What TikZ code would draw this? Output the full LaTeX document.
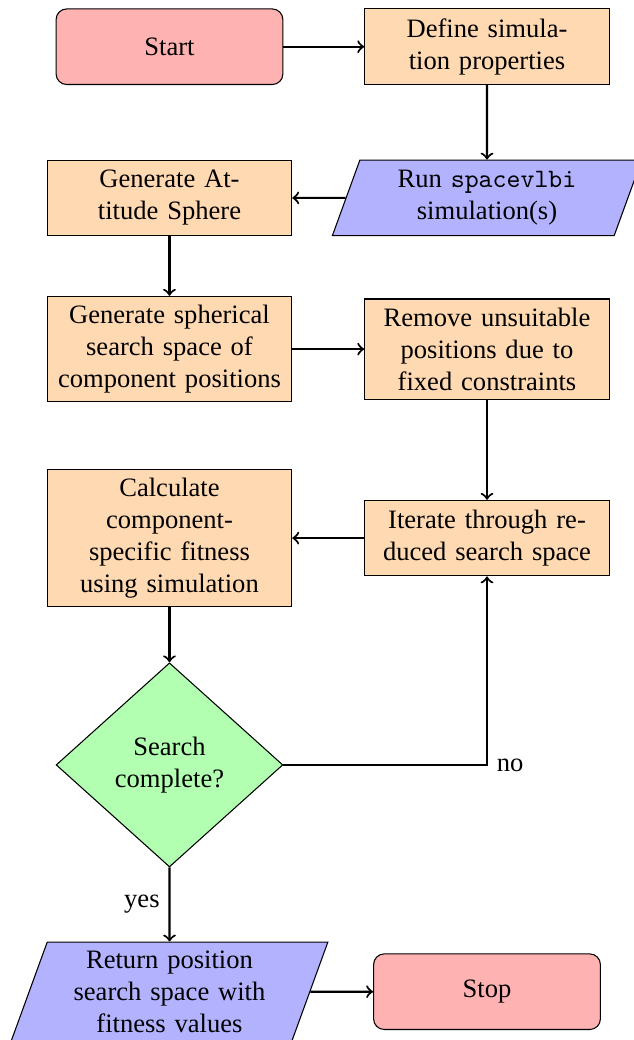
\documentclass[tikz,border=0pt]{standalone}
\usepackage{fontspec}
\setmainfont{Liberation Serif}
\usetikzlibrary{shapes.geometric, arrows}

\tikzset{
 startstop/.style={rectangle, rounded corners, minimum width=3cm, minimum height=1cm, align=center, draw=black, fill=red!30},
 io/.style={trapezium, trapezium left angle=70, trapezium right angle=110, minimum width=3cm, minimum height=1cm, text width=3cm, align=center, draw=black, fill=blue!30},
 process/.style={rectangle, minimum width=3cm, minimum height=1cm, text width=3cm, align=center, draw=black, fill=orange!30},
 decision/.style={diamond, minimum width=3cm, minimum height=2.7cm, align=center, draw=black, fill=green!30, inner sep=0pt},
 flowarrow/.style={thick, ->},
}

\begin{document}
\begin{tikzpicture}[font=\fontsize{10}{12}\selectfont]
\useasboundingbox (-2.242,0.618) rectangle (6.144,-13.139);

\node[startstop] (start) at (0,0) {Start};
\node[process] (define) at (4.2,0) {Define simula-\\tion properties};
\node[io] (run) at (4.2,-2) {Run \texttt{spacevlbi}\\simulation(s)};
\node[process] (att) at (0,-2) {Generate At-\\titude Sphere};
\node[process] (sph) at (0,-4) {Generate spherical\\search space of\\component positions};
\node[process] (remove) at (4.2,-4) {Remove unsuitable\\positions due to\\fixed constraints};
\node[process] (iter) at (4.2,-6.5) {Iterate through re-\\duced search space};
\node[process] (calc) at (0,-6.5) {Calculate\\component-\\specific fitness\\using simulation};
\node[decision] (dec) at (0,-9.5) {Search\\complete?};
\node[io] (ret) at (0,-12.5) {Return position\\search space with\\fitness values};
\node[startstop] (stop) at (4.2,-12.5) {Stop};

\coordinate (nocorner) at (iter.south |- dec.east);

\draw[flowarrow] (start) -- (define);
\draw[flowarrow] (define) -- (run);
\draw[flowarrow] (run) -- (att);
\draw[flowarrow] (att) -- (sph);
\draw[flowarrow] (sph) -- (remove);
\draw[flowarrow] (remove) -- (iter);
\draw[flowarrow] (iter) -- (calc);
\draw[flowarrow] (calc) -- (dec);
\draw[flowarrow] (dec) -- node[midway, left] {yes} (ret);
\draw[flowarrow] (dec.east) -- (nocorner) node[right] {no} -- (iter.south);
\draw[flowarrow] (ret) -- (stop);
\end{tikzpicture}
\end{document}
